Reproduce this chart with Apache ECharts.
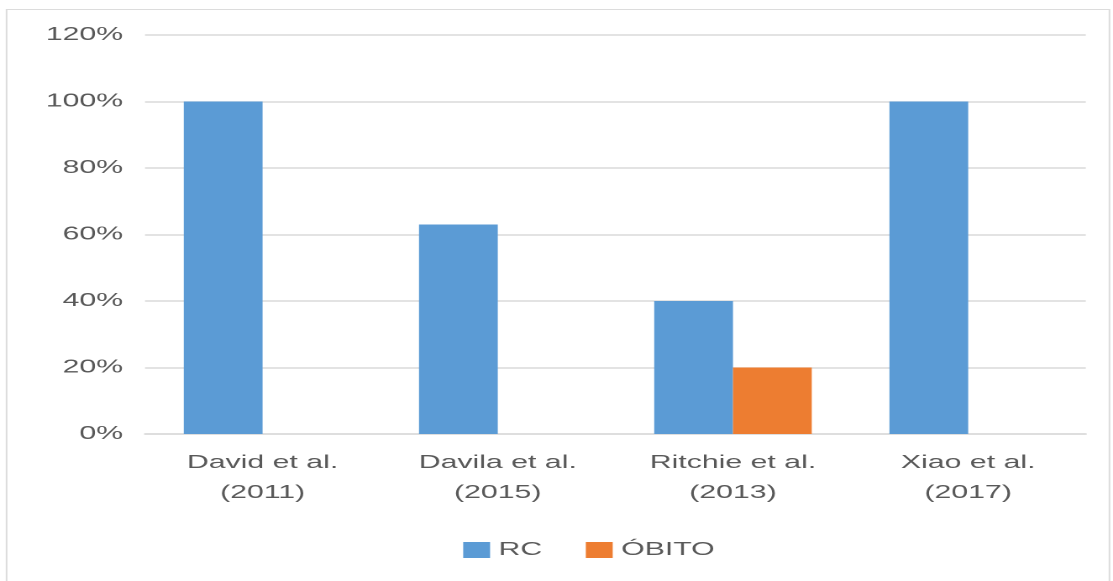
<!DOCTYPE html>
<html>
<head>
<meta charset="utf-8">
<script src="https://cdn.jsdelivr.net/npm/echarts@6/dist/echarts.min.js"></script>
<style>
  html, body { margin: 0; padding: 0; background: #fff; overflow: hidden; }
  /* a figura original está esticada na horizontal */
  #chart { width: 663px; height: 581px; transform: scaleX(1.68); transform-origin: 0 0; }
</style>
</head>
<body>
<div id="chart"></div>
<script>
// dados
const estudos = ['David et al.\n(2011)', 'Davila et al.\n(2015)', 'Ritchie et al.\n(2013)', 'Xiao et al.\n(2017)']
const rc = [100, 63, 40, 100]
const obito = [0, 0, 20, 0]

const fonte = '"Liberation Sans", Arial, sans-serif'
const cinza = '#595959'

let grafico = echarts.init(document.getElementById('chart'), null, { devicePixelRatio: 2 })
let option = {
  animation: false,
  textStyle: { fontFamily: fonte },
  graphic: [
    {
      type: 'rect',
      shape: { x: 3.9, y: 9.5, width: 656.5, height: 580 },
      style: { fill: 'none', stroke: '#dcdcdc', lineWidth: 1 }
    }
  ],
  grid: { left: 86.3, right: 16.7, top: 35, bottom: 147 },
  legend: {
    bottom: 17,
    left: 270.7,
    itemWidth: 16,
    itemHeight: 16,
    itemGap: 26,
    icon: 'rect',
    textStyle: { color: cinza, fontSize: 18, fontFamily: fonte },
    data: ['RC', 'ÓBITO']
  },
  xAxis: {
    type: 'category',
    data: estudos,
    axisLine: { lineStyle: { color: '#d9d9d9', width: 1.5 } },
    axisTick: { show: false },
    axisLabel: { color: cinza, fontSize: 18, fontFamily: fonte, lineHeight: 30, margin: 14 }
  },
  yAxis: {
    type: 'value',
    min: 0,
    max: 120,
    interval: 20,
    axisLine: { show: false },
    axisTick: { show: false },
    splitLine: { lineStyle: { color: '#d9d9d9', width: 1.5 } },
    axisLabel: { color: cinza, fontSize: 18, fontFamily: fonte, margin: 13, formatter: '{value}%' }
  },
  series: [
    {
      name: 'RC',
      type: 'bar',
      data: rc,
      barGap: '0%',
      barCategoryGap: '33%',
      itemStyle: { color: '#5b9bd5' }
    },
    {
      name: 'ÓBITO',
      type: 'bar',
      data: obito,
      itemStyle: { color: '#ed7d31' }
    }
  ]
}
grafico.setOption(option)
</script>
</body>
</html>
